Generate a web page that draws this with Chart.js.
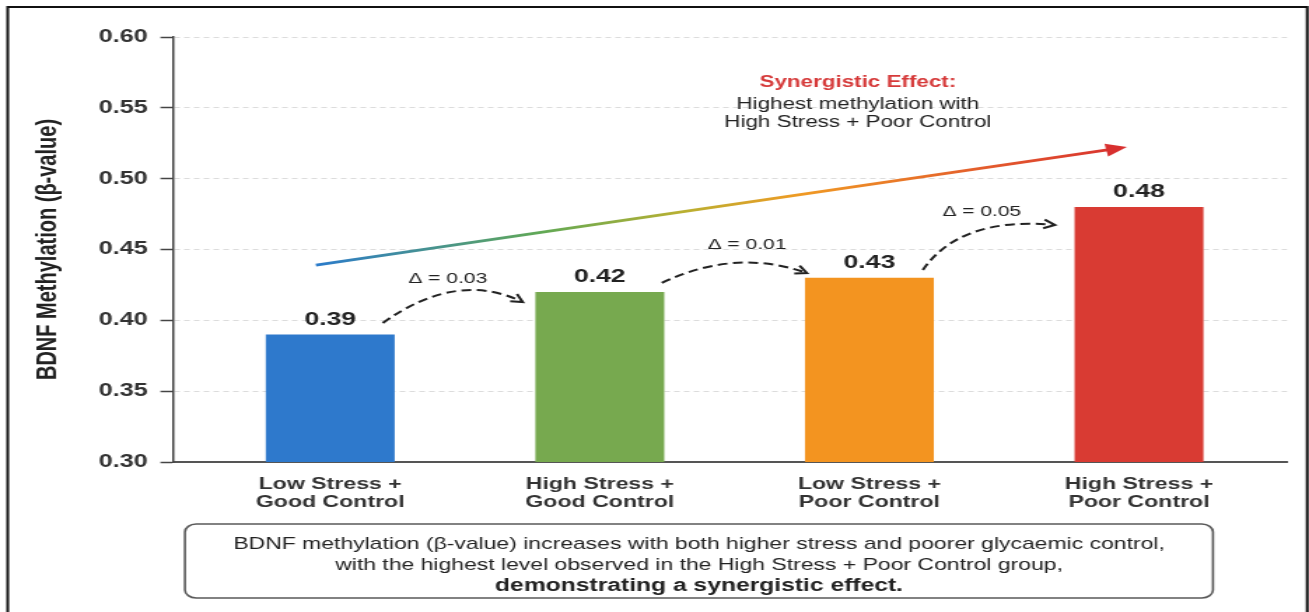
<!DOCTYPE html>
<html>
<head>
<meta charset="utf-8">
<title>BDNF methylation by stress and glycaemic control</title>
<script src="https://cdn.jsdelivr.net/npm/chart.js@4.4.1/dist/chart.umd.min.js"></script>
<style>
  html, body { margin: 0; padding: 0; background: #ffffff; overflow: hidden; }
  #c { display: block; }
</style>
</head>
<body>
<!-- The canvas is drawn narrower than the page and widened by its inline size,
     which gives the broad lettering and shapes of the figure. -->
<canvas id="c" width="935" height="612" style="width:1309px;height:612px"></canvas>
<script>
// ---- data ----
const categories = [
  ['Low Stress +', 'Good Control'],
  ['High Stress +', 'Good Control'],
  ['Low Stress +', 'Poor Control'],
  ['High Stress +', 'Poor Control']
];
const methylation = [0.39, 0.42, 0.43, 0.48];
const barColors = ['#2e79cc', '#77a94f', '#f39420', '#d93b33'];
const yTicks = [0.30, 0.35, 0.40, 0.45, 0.50, 0.55, 0.60];
const yTitle = 'BDNF Methylation (β-value)';
const calloutLines = ['Synergistic Effect:', 'Highest methylation with', 'High Stress + Poor Control'];
const captionLines = [
  'BDNF methylation (β-value) increases with both higher stress and poorer glycaemic control,',
  'with the highest level observed in the High Stress + Poor Control group,',
  'demonstrating a synergistic effect.'
];

// ---- drawing helpers ----
const FONT = "'Liberation Sans', Arial, Helvetica, sans-serif";

function dashedHop(ctx, p0, c, p1) {
  ctx.save();
  ctx.strokeStyle = '#222';
  ctx.lineWidth = 2;
  ctx.setLineDash([7, 4]);
  ctx.beginPath();
  ctx.moveTo(p0[0], p0[1]);
  ctx.quadraticCurveTo(c[0], c[1], p1[0], p1[1]);
  ctx.stroke();
  // open arrow head along the end tangent
  const a = Math.atan2(p1[1] - c[1], p1[0] - c[0]);
  const L = 9, spread = 0.5;
  ctx.setLineDash([]);
  ctx.lineWidth = 2;
  ctx.beginPath();
  ctx.moveTo(p1[0] - L * Math.cos(a - spread), p1[1] - L * Math.sin(a - spread));
  ctx.lineTo(p1[0], p1[1]);
  ctx.lineTo(p1[0] - L * Math.cos(a + spread), p1[1] - L * Math.sin(a + spread));
  ctx.stroke();
  ctx.restore();
}

const decor = {
  id: 'decor',
  beforeDraw(chart) {
    const { ctx, width, height } = chart;
    ctx.save();
    ctx.fillStyle = '#ffffff';
    ctx.fillRect(0, 0, width, height);
    ctx.restore();
  },
  afterDatasetsDraw(chart) {
    const { ctx, scales: { x, y } } = chart;
    const X = v => x.getPixelForValue(v);
    const Y = v => y.getPixelForValue(v);

    // value above each bar
    const meta = chart.getDatasetMeta(0);
    ctx.save();
    ctx.font = `bold 19px ${FONT}`;
    ctx.fillStyle = '#222';
    ctx.textAlign = 'center';
    ctx.textBaseline = 'alphabetic';
    meta.data.forEach((bar, i) => {
      ctx.fillText(methylation[i].toFixed(2), bar.x, bar.y - 10);
    });
    ctx.restore();

    // rising trend arrow with a blue-to-red gradient
    const x0 = X(-0.053), y0 = Y(0.439), x1 = X(2.955), y1 = Y(0.5223);
    const ang = Math.atan2(y1 - y0, x1 - x0);
    const headL = 15, headW = 6.5;
    const bx = x1 - headL * Math.cos(ang), by = y1 - headL * Math.sin(ang);
    const g = ctx.createLinearGradient(x0, y0, x1, y1);
    g.addColorStop(0, '#2b7bcb');
    g.addColorStop(0.28, '#62a955');
    g.addColorStop(0.45, '#b8b032');
    g.addColorStop(0.6, '#f09a24');
    g.addColorStop(0.85, '#e2552d');
    g.addColorStop(1, '#d8302f');
    ctx.save();
    ctx.strokeStyle = g;
    ctx.lineWidth = 2.8;
    ctx.beginPath();
    ctx.moveTo(x0, y0);
    ctx.lineTo(bx + 2 * Math.cos(ang), by + 2 * Math.sin(ang));
    ctx.stroke();
    ctx.fillStyle = '#d8302f';
    ctx.beginPath();
    ctx.moveTo(x1, y1);
    ctx.lineTo(bx - headW * Math.sin(ang), by + headW * Math.cos(ang));
    ctx.lineTo(bx + headW * Math.sin(ang), by - headW * Math.cos(ang));
    ctx.closePath();
    ctx.fill();
    ctx.restore();

    // callout text
    ctx.save();
    ctx.textAlign = 'center';
    ctx.textBaseline = 'middle';
    const cx = X(1.957);
    const cy = [0.5675, 0.552, 0.5393];
    calloutLines.forEach((t, i) => {
      ctx.font = i === 0 ? `bold 16px ${FONT}` : `16px ${FONT}`;
      ctx.fillStyle = i === 0 ? '#d63a3a' : '#222';
      ctx.fillText(t, cx, Y(cy[i]));
    });
    ctx.restore();

    // dashed hops between neighbouring groups, labelled with the step size
    const hops = [
      { p0: [0.195, 0.3981], c: [0.470, 0.4355], p1: [0.714, 0.4129], lab: [0.436, 0.4292] },
      { p0: [1.230, 0.4264], c: [1.503, 0.4511], p1: [1.768, 0.4334], lab: [1.546, 0.4532] },
      { p0: [2.198, 0.4355], c: [2.339, 0.4736], p1: [2.688, 0.4673], lab: [2.417, 0.4765] }
    ];
    hops.forEach((h, i) => {
      const P = p => [X(p[0]), Y(p[1])];
      dashedHop(ctx, P(h.p0), P(h.c), P(h.p1));
      const delta = (methylation[i + 1] - methylation[i]).toFixed(2);
      ctx.save();
      ctx.font = `15px ${FONT}`;
      ctx.fillStyle = '#222';
      ctx.textAlign = 'center';
      ctx.textBaseline = 'middle';
      ctx.fillText(`Δ = ${delta}`, X(h.lab[0]), Y(h.lab[1]));
      ctx.restore();
    });
  },
  afterDraw(chart) {
    const { ctx } = chart;
    // caption box
    ctx.save();
    ctx.fillStyle = '#ffffff';
    ctx.strokeStyle = '#5a5a5a';
    ctx.lineWidth = 1.6;
    ctx.beginPath();
    ctx.roundRect(132.1, 524, 734.3, 74, 8);
    ctx.fill();
    ctx.stroke();
    ctx.fillStyle = '#222';
    ctx.textAlign = 'center';
    ctx.textBaseline = 'middle';
    const ly = [544, 565, 586];
    captionLines.forEach((t, i) => {
      ctx.font = i === 2 ? `bold 17.6px ${FONT}` : `16.4px ${FONT}`;
      ctx.fillText(t, 499.3, ly[i]);
    });
    ctx.restore();

    // outer frame
    ctx.save();
    ctx.strokeStyle = '#111';
    ctx.lineWidth = 2;
    ctx.strokeRect(5.5, 7, 928.2, 700);
    ctx.restore();
  }
};

new Chart(document.getElementById('c'), {
  type: 'bar',
  data: {
    datasets: [{
      data: methylation.map((v, i) => ({ x: i, y: v })),
      backgroundColor: barColors,
      borderWidth: 0,
      categoryPercentage: 1,
      barPercentage: 0.478
    }]
  },
  options: {
    responsive: false,
    animation: false,
    devicePixelRatio: 1,
    events: [],
    layout: { padding: { left: 0, top: 37, right: 15.7, bottom: 0 } },
    plugins: {
      legend: { display: false },
      tooltip: { enabled: false },
      title: { display: false }
    },
    scales: {
      x: {
        type: 'linear',
        offset: false,
        min: -0.583,
        max: 3.549,
        bounds: 'data',
        afterBuildTicks: s => { s.ticks = categories.map((c, i) => ({ value: i })); },
        afterFit: s => { s.height = 150; },
        ticks: {
          callback: v => categories[v],
          autoSkip: false,
          maxRotation: 0,
          font: { family: FONT, size: 16.5, weight: 'bold', lineHeight: 1.1 },
          color: '#333',
          padding: 13
        },
        grid: { display: false, drawTicks: false, offset: false },
        border: { display: true, color: '#555', width: 2 }
      },
      y: {
        type: 'linear',
        min: 0.30,
        max: 0.60,
        afterBuildTicks: s => { s.ticks = yTicks.map(v => ({ value: v })); },
        afterFit: s => { s.width = 123.6; },
        ticks: {
          callback: v => v.toFixed(2),
          font: { family: FONT, size: 18, weight: 'bold' },
          color: '#333',
          padding: 9
        },
        grid: {
          color: '#dcdcdc',
          lineWidth: 1,
          tickColor: '#444',
          tickLength: 9,
          tickWidth: 1.5,
          tickBorderDash: []
        },
        border: { display: true, color: '#444', width: 1.5, dash: [4, 3] },
        title: {
          display: true,
          text: yTitle,
          font: { family: FONT, size: 20, weight: 'bold' },
          color: '#222',
          padding: { top: 22, bottom: 0 }
        }
      }
    }
  },
  plugins: [decor]
});
</script>
</body>
</html>
